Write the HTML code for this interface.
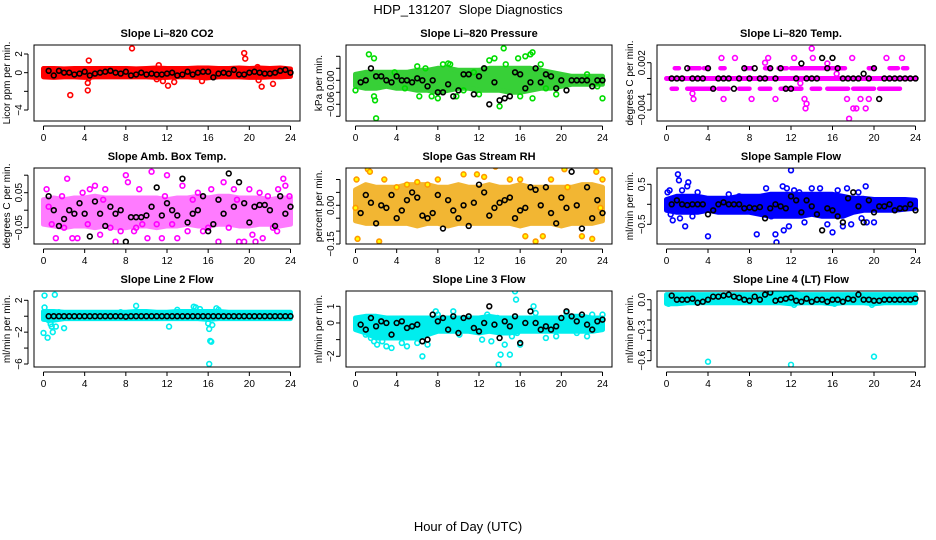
<!DOCTYPE html>
<html><head><meta charset="utf-8"><style>
html,body{margin:0;padding:0;background:#fff;width:936px;height:540px;overflow:hidden}
svg{display:block;font-family:"Liberation Sans",Arial,sans-serif}
</style></head><body>
<svg id="chart" width="936" height="540" viewBox="0 0 936 540" xmlns="http://www.w3.org/2000/svg">
<text x="468" y="14" font-size="13" text-anchor="middle">HDP_131207&#160; Slope Diagnostics</text>
<text x="468" y="531" font-size="13" text-anchor="middle">Hour of Day (UTC)</text>
</svg>
<script>
// shared hours
const bandHours = [0,1,2,3,4,5,6,7,8,9,10,11,12,13,14,15,16,17,18,19,20,21,22,23,24];
const blackHours = [0.5,1,1.5,2,2.5,3,3.5,4,4.5,5,5.5,6,6.5,7,7.5,8,8.5,9,9.5,10,10.5,11,11.5,12,12.5,13,13.5,14,14.5,15,15.5,16,16.5,17,17.5,18,18.5,19,19.5,20,20.5,21,21.5,22,22.5,23,23.5,24];
const xTicks = [0,4,8,12,16,20,24];

// panel 1 CO2
const co2Lo = [-0.45,-0.5,-0.45,-0.45,-0.5,-0.45,-0.45,-0.45,-0.45,-0.45,-0.45,-0.5,-0.5,-0.45,-0.45,-0.5,-0.55,-0.45,-0.45,-0.45,-0.5,-0.5,-0.45,-0.45,-0.4];
const co2Hi = [0.45,0.45,0.4,0.45,0.45,0.45,0.45,0.45,0.45,0.4,0.45,0.5,0.45,0.45,0.45,0.5,0.5,0.45,0.45,0.5,0.45,0.5,0.45,0.5,0.4];
const co2OutH = [2.6,4.3,4.3,4.4,8.6,11.2,11,11.6,12.1,12.7,15.4,19.5,19.6,20.4,20.8,20.9,21.2,22.3,4.4,15.8];
const co2OutV = [-2.4,-1.1,-1.9,1.3,2.6,0.8,-0.7,-0.9,-1.4,-1,-0.9,2.1,1.5,-5.6,0.6,-0.8,-1.5,-1.2,-0.6,-0.5];
const co2Black = [0.2,-0.3,0.2,0,0,-0.2,-0.1,0.1,-0.3,-0.1,0,0.1,0.2,0,-0.1,0.1,-0.3,-0.2,0,-0.2,-0.1,-0.2,-0.2,-0.1,0,-0.3,-0.2,0.1,-0.2,0,0.1,0.1,-0.5,-0.1,0,-0.1,0.3,-0.2,-0.2,0,0.1,0,-0.1,-0.1,0,0.2,0.3,0];
// panel 2 pressure
const presLo = [-0.015,-0.02,-0.02,-0.015,-0.02,-0.02,-0.025,-0.025,-0.03,-0.025,-0.02,-0.02,-0.025,-0.025,-0.025,-0.03,-0.03,-0.025,-0.02,-0.02,-0.015,-0.01,-0.01,-0.01,-0.01];
const presHi = [0.015,0.02,0.02,0.02,0.02,0.02,0.025,0.025,0.03,0.03,0.025,0.025,0.025,0.03,0.03,0.03,0.03,0.03,0.025,0.02,0.015,0.01,0.01,0.01,0.01];
const presOutH = [1.3,1.8,2,1.8,1.9,0,3.8,6,6.8,8.5,9,9.2,4.8,6.2,7.4,8,9.8,12.5,13,13.5,14,14.4,14.6,15.8,16.5,17,17.2,16,17.2,18,18.5,11.5,10.5,24,22.5,23.5,12,19.5];
const presOutV = [0.065,0.055,-0.095,-0.04,-0.05,-0.025,0.02,0.035,0.03,0.04,0.042,0.04,-0.02,-0.04,-0.04,-0.045,-0.04,0.03,0.05,0.055,-0.065,0.08,0.04,0.055,0.06,0.065,0.07,-0.04,-0.045,0.04,-0.02,0.02,-0.025,-0.045,0.015,-0.015,-0.035,-0.035];
const presBlack = [-0.005,0,0.03,0.01,0.01,0,-0.005,0.01,0,0,-0.005,0.005,0,-0.015,0,-0.03,-0.03,-0.01,-0.04,-0.025,0.015,0.015,-0.035,0.01,0.03,-0.06,-0.005,-0.05,-0.045,-0.04,0.02,0.015,-0.02,-0.005,0.03,-0.005,0.015,0.01,-0.02,0,-0.025,0,0,0,0,-0.015,0,0];
// panel 3 temp (quantized levels)
const tempLo = [0,0,0,0,0,0,0,0,0,0,0,0,0,0,0,0,0,0,0,0,0,0,0,0,0];
const tempHi = [0,0,0,0,0,0,0,0,0,0,0,0,0,0,0,0,0,0,0,0,0,0,0,0,0];
const tempUpStart = [0.8,2.2,3.6,5.2,7.6,9.5,10.8,12,13.5,19.5,21.5,22.8];
const tempUpEnd = [1.2,3.2,4,5.6,8.2,10,11.6,13.4,17.2,20,22.3,23.2];
const tempDnStart = [0.5,2,5,7,9,11,14,15.5,18,20.5];
const tempDnEnd = [1,4.5,6,8,10,13,14.8,17.5,20,22.5];
const tempOutH = [2.5,2.6,5.3,5.5,6.6,8.2,9.5,9.8,10.5,12.3,13.3,13.4,13.5,14,14.1,15.5,17.4,17.6,17.9,18,18.3,18.7,19.2,19.5,21.2,22.7,12.9,16.4];
const tempOutV = [-0.0019,-0.0026,0.0026,-0.0026,0.0026,-0.0026,0.002,0.0026,-0.0026,0.0026,-0.0026,-0.0038,-0.0032,0.0038,0.0026,0.0019,-0.0026,-0.0051,0.0026,-0.0038,-0.0038,-0.0026,-0.0038,-0.0026,0.0026,0.0026,-0.0006,0.0006];
const tempBlack = [0,0,0,0.0013,0,0,0,0.0013,-0.0013,0,0,0,-0.0013,0,0.0013,0,0.0013,0,0,0.0013,0,0.0013,-0.0013,-0.0013,0,0.0019,0,0,0,0.0026,0.0013,0.0026,0.0013,0,0,0,0,0.0006,0,0.0013,-0.0026,0,0,0,0,0,0,0];
// panel 4 amb box temp
const ambLo = [-0.04,-0.045,-0.05,-0.045,-0.045,-0.05,-0.045,-0.05,-0.05,-0.045,-0.045,-0.05,-0.045,-0.045,-0.04,-0.045,-0.045,-0.04,-0.04,-0.045,-0.045,-0.04,-0.04,-0.045,-0.04];
const ambHi = [0.03,0.035,0.03,0.035,0.035,0.04,0.035,0.035,0.035,0.035,0.035,0.035,0.03,0.035,0.035,0.04,0.035,0.04,0.04,0.035,0.035,0.035,0.03,0.035,0.035];
const ambOutH = [0.3,0.8,1.2,1.8,2.3,2.8,3.3,3.8,4.3,4.5,5,5.5,6,6.5,7,7.5,8,8.2,8.8,9.3,9.6,10.1,10.5,11,11.5,12,12.5,13,13.5,14,14.5,15,15.5,16.3,17,17.5,18,18.5,19,19.5,20,20.3,20.6,21,21.3,21.8,22.3,22.8,23.3,23.4,23.5,23.9,0.5,2,5.8,9,11.8,16,18.8,22.7];
const ambOutV = [0.06,-0.04,-0.08,0.04,0.09,-0.08,-0.08,0.05,-0.04,0.06,0.07,-0.07,0.06,-0.05,-0.09,-0.06,0.1,0.08,-0.06,0.06,-0.04,-0.08,0.11,-0.04,-0.08,0.1,-0.04,-0.08,0.07,-0.06,0.03,0.05,-0.06,0.06,-0.09,0.08,-0.05,0.06,-0.09,-0.09,0.06,-0.07,-0.09,0.05,-0.08,0.04,-0.05,0.06,0.09,0.13,0.07,0.04,0.01,-0.05,0.03,-0.05,0.04,-0.05,0.03,-0.06];
const ambBlack = [0.04,0,-0.045,-0.025,0,-0.01,0.02,-0.01,-0.075,0.025,-0.01,-0.045,0.01,-0.01,0,-0.09,-0.02,-0.02,-0.02,-0.015,0.01,0.065,-0.015,0.02,0,-0.015,0.09,-0.035,-0.01,0,0.04,-0.06,-0.04,0.03,-0.01,0.105,0.01,0.08,0.02,-0.035,0.01,0.015,0.015,0,-0.045,0.04,-0.01,0.01];
// panel 5 RH
const rhLo = [-0.06,-0.07,-0.07,-0.07,-0.07,-0.07,-0.08,-0.07,-0.07,-0.08,-0.07,-0.07,-0.07,-0.07,-0.07,-0.07,-0.08,-0.07,-0.07,-0.07,-0.08,-0.07,-0.07,-0.07,-0.06];
const rhHi = [0.06,0.08,0.07,0.07,0.07,0.08,0.08,0.08,0.07,0.07,0.08,0.07,0.07,0.08,0.07,0.07,0.08,0.07,0.07,0.07,0.07,0.07,0.08,0.08,0.07];
const rhOutH = [0,0.1,0.2,0.5,1.2,1.4,2.3,2.8,4,5,6,7,8,10.5,11.8,12.5,13.6,15,16,16.5,17.5,18.2,19,20.3,20.6,20.8,21.5,22,22.9,23,23.4,23.8,24];
const rhOutV = [-0.01,0.1,-0.13,-0.17,0.14,0.13,-0.14,0.1,0.07,0.08,0.09,0.08,0.1,0.12,0.12,0.11,0.15,0.1,0.1,-0.12,-0.14,-0.12,0.1,0.14,0.07,-0.21,0.2,-0.12,0.17,-0.13,0.13,-0.01,0.1];
const rhBlack = [-0.03,0.04,0.01,-0.07,0,-0.01,0.04,-0.05,-0.02,0.02,0.05,0.03,-0.04,-0.05,-0.03,0.04,-0.09,0.02,-0.02,-0.05,0,-0.08,0.01,0.08,0.05,-0.04,-0.01,0.01,0.02,0.03,-0.05,-0.02,-0.01,0.07,0.06,0,0.07,-0.03,-0.07,0.03,-0.01,0.13,0,-0.09,0.07,-0.05,0.02,-0.03];
// panel 6 sample flow
const sfLo = [-0.15,-0.2,-0.2,-0.2,-0.15,-0.2,-0.2,-0.2,-0.2,-0.25,-0.3,-0.3,-0.3,-0.3,-0.25,-0.3,-0.3,-0.3,-0.2,-0.15,-0.15,-0.15,-0.15,-0.12,-0.1];
const sfHi = [0.12,0.2,0.2,0.2,0.15,0.15,0.15,0.2,0.2,0.2,0.25,0.25,0.25,0.25,0.25,0.25,0.25,0.2,0.15,0.15,0.12,0.12,0.12,0.12,0.1];
const sfOutH = [0.1,0.3,0.4,0.6,1.1,1.2,1.3,1.5,1.8,2,2.1,2.5,3,4,6,7,8.7,9.6,10.1,10.5,10.6,11.2,11.6,11.3,11.8,12,12.3,12.8,13.3,14,14.8,15.5,16,16.5,17,17.4,17.8,18.5,18.8,19.2,19.3,20];
const sfOutV = [0.3,0.35,-0.25,-0.4,0.75,0.6,-0.35,0.35,-0.55,0.45,0.55,-0.3,0.3,-0.8,0.25,0.2,-0.75,0.4,-0.3,-0.75,-0.95,0.45,0.4,-0.65,-0.55,0.85,0.35,0.3,-0.45,0.4,0.4,-0.5,-0.7,0.35,-0.55,0.4,-0.5,0.3,-0.35,0.45,-0.45,-0.45];
const sfBlack = [0,0.1,0,-0.02,0,0,0,-0.25,-0.15,0,0.05,0,0,0,-0.1,-0.08,-0.1,-0.07,-0.35,-0.1,0,-0.05,-0.1,0.2,0.1,-0.2,0.1,-0.05,-0.25,-0.65,-0.1,-0.15,-0.3,-0.45,0.15,0.3,-0.05,-0.45,0.1,-0.2,-0.05,-0.05,0,-0.15,-0.1,-0.1,0,-0.15];
// panel 7 line 2 flow
const l2Lo = [-0.4,-0.5,-0.3,-0.3,-0.3,-0.3,-0.3,-0.3,-0.3,-0.3,-0.3,-0.3,-0.3,-0.3,-0.3,-0.3,-0.4,-0.3,-0.3,-0.3,-0.3,-0.3,-0.3,-0.3,-0.3];
const l2Hi = [0.6,0.6,0.5,0.5,0.5,0.5,0.5,0.5,0.5,0.6,0.6,0.5,0.5,0.6,0.6,0.6,0.6,0.6,0.5,0.5,0.5,0.5,0.5,0.5,0.5];
const l2OutH = [0,0.1,0.1,0.4,0.5,0.7,0.8,0.9,1.1,1.2,1.5,2,9,12.2,14.6,14.8,15.2,16,16.1,16.2,16.3,16.1,16.4,16.8,17,13,7.5];
const l2OutV = [-2.1,1.1,2.6,-2.7,-0.5,-1,-1.3,-2,2.7,-1.3,0.5,-1.5,1.3,-1.3,1.2,1.1,0.9,-0.9,-1.6,-3.1,-3.2,-6,-1.1,1,0.8,0.8,0.5];
const l2Black = [0,0,0,0,0,0,0,0,0,0,0,0,0,0,0,-0.05,0,0,0,0,0,0,0,0,0,0,0,0,0,0,0,0,0,0,0,0,0,0,0,0,0,0,0,0,0,0,0,0];
// panel 8 line 3 flow
const l3Lo = [-0.4,-0.6,-0.9,-0.9,-0.9,-0.9,-0.9,-0.7,-0.5,-0.5,-0.5,-0.5,-0.6,-0.5,-0.6,-0.6,-0.5,-0.5,-0.5,-0.5,-0.5,-0.5,-0.5,-0.5,-0.4];
const l3Hi = [0.3,0.4,0.4,0.3,0.3,0.3,0.3,0.3,0.3,0.3,0.3,0.3,0.3,0.4,0.3,0.3,0.3,0.3,0.3,0.3,0.3,0.4,0.4,0.3,0.3];
const l3OutH = [0.1,1,1.5,1.8,2.1,2.6,3,3.5,4.5,5,6,6.5,7,7.8,8,9.5,10.1,11.8,12.3,12.8,13.2,13.8,13.9,14.1,14.5,15,15.5,15.6,15.2,15.7,16,17.3,17.5,18.5,19.5,20.5,21.5,22.5,23,23.5,24];
const l3OutV = [-0.3,-0.7,-0.9,-1.1,-1.3,-1.1,-1.4,-1.5,-1.2,-1.4,-1.2,-2,-1.3,0.7,0.5,0.7,-0.7,-0.5,-1,0.5,-1.1,0.3,-2.5,-1.9,-1.3,-1.9,1.9,1.4,-0.8,-0.6,-1.3,1,0.6,-0.9,-0.8,0.6,-0.6,-0.8,0.5,-0.4,0.5];
const l3Black = [-0.1,-0.4,0.3,-0.2,0.1,0,-0.7,0,0.1,-0.3,-0.2,-0.1,-1.1,-1,0.5,0.1,0.3,-0.4,0.4,-0.6,0.3,0.4,-0.3,-0.5,0,1,-0.1,-0.9,0.1,-0.2,0.4,-1.2,0,0.7,0,-0.4,-0.2,-0.4,-0.2,0.3,0.7,0.4,0.1,0.5,-0.1,-0.4,0.1,0.2];
// panel 9 line 4 flow
const l4Lo = [-0.04,-0.04,-0.03,-0.03,-0.03,-0.03,-0.03,-0.03,-0.03,-0.03,-0.03,-0.03,-0.04,-0.03,-0.03,-0.03,-0.04,-0.03,-0.03,-0.03,-0.04,-0.03,-0.03,-0.03,-0.03];
const l4Hi = [0.05,0.05,0.05,0.05,0.05,0.05,0.05,0.05,0.05,0.05,0.06,0.06,0.06,0.05,0.05,0.05,0.05,0.05,0.05,0.05,0.05,0.05,0.05,0.05,0.05];
const l4OutH = [4,12,20,0.2,10.2,12.3,16.2,19.8];
const l4OutV = [-0.61,-0.64,-0.56,-0.04,0.06,-0.05,-0.04,-0.05];
const l4Black = [0.04,0,0,0,0.01,-0.03,-0.02,0,0.03,0.03,0.04,0.05,0.03,0.02,0,-0.01,0.03,0,0.05,0.07,-0.01,0,0.01,0.02,-0.01,-0.02,0.01,-0.02,0,0,-0.02,0,0,-0.02,0.01,0,0.05,0,0,-0.01,-0.01,0,0,0,0,0,0,0.01];

// tick definitions
const p1Ticks=[2,0,-2,-4], p1Labels=["2","0","","\u22124"];
const p2Ticks=[0.06,0.03,0,-0.03,-0.06,-0.09], p2Labels=["","","0.00","","\u22120.06",""];
const p3Ticks=[0.002,0,-0.002,-0.004], p3Labels=["0.002","","","\u22120.004"];
const p4Ticks=[0.1,0.05,0,-0.05], p4Labels=["","0.05","","\u22120.05"];
const p5Ticks=[0.1,0.05,0,-0.05,-0.1,-0.15], p5Labels=["","","0.00","","","\u22120.15"];
const p6Ticks=[0.5,0,-0.5], p6Labels=["0.5","","\u22120.5"];
const p7Ticks=[2,0,-2,-4,-6], p7Labels=["2","","\u22122","","\u22126"];
const p8Ticks=[1,0,-1,-2], p8Labels=["1","0","","\u22122"];
const p9Ticks=[0,-0.1,-0.2,-0.3,-0.4,-0.5,-0.6], p9Labels=["0.0","","","\u22120.3","","","\u22120.6"];

const NS='http://www.w3.org/2000/svg';
const svg=document.getElementById('chart');
function mk(tag,parent){const e=document.createElementNS(NS,tag);parent.appendChild(e);return e;}

const colL=[34,346,657], colR=[300,612,925];
const rowT=[45,168,291], rowB=[121,244,367];

const panels=[
 {name:'co2',title:'Slope Li\u2013820 CO2',ylab:'Licor ppm per min.',c:0,r:0,va:2,pa:54,vb:-4,pb:110,col:'#ff0000',band:'#ff0000',lo:co2Lo,hi:co2Hi,oh:co2OutH,ov:co2OutV,blk:co2Black,ticks:p1Ticks,labels:p1Labels},
 {name:'pressure',title:'Slope Li\u2013820 Pressure',ylab:'kPa per min.',c:1,r:0,va:0,pa:80.3,vb:-0.06,pb:104.3,col:'#00dd00',band:'#22cc22',lo:presLo,hi:presHi,oh:presOutH,ov:presOutV,blk:presBlack,ticks:p2Ticks,labels:p2Labels,op:0.9},
 {name:'temp',title:'Slope Li\u2013820 Temp.',ylab:'degrees C per min.',c:2,r:0,va:0.002,pa:62.7,vb:-0.004,pb:110,col:'#ff00ff',band:'#ff00ff',lo:tempLo,hi:tempHi,oh:tempOutH,ov:tempOutV,blk:tempBlack,ticks:p3Ticks,labels:p3Labels},
 {name:'amb-box-temp',title:'Slope Amb. Box Temp.',ylab:'degrees C per min.',c:0,r:1,va:0.05,pa:192.7,vb:-0.05,pb:227.7,col:'#ff00ff',band:'#ff44ff',lo:ambLo,hi:ambHi,oh:ambOutH,ov:ambOutV,blk:ambBlack,ticks:p4Ticks,labels:p4Labels,op:0.7},
 {name:'gas-stream-rh',title:'Slope Gas Stream RH',ylab:'percent per min.',c:1,r:1,va:0,pa:205.3,vb:-0.15,pb:244,col:'#ff9900',band:'#f0aa10',lo:rhLo,hi:rhHi,oh:rhOutH,ov:rhOutV,blk:rhBlack,ticks:p5Ticks,labels:p5Labels,fill:'#ffff00',op:0.85},
 {name:'sample-flow',title:'Slope Sample Flow',ylab:'ml/min per min.',c:2,r:1,va:0.5,pa:184.3,vb:-0.5,pb:224.3,col:'#0000ff',band:'#0000ff',lo:sfLo,hi:sfHi,oh:sfOutH,ov:sfOutV,blk:sfBlack,ticks:p6Ticks,labels:p6Labels},
 {name:'line2-flow',title:'Slope Line 2 Flow',ylab:'ml/min per min.',c:0,r:2,va:2,pa:300.3,vb:-6,pb:364,col:'#00eeee',band:'#00eeee',lo:l2Lo,hi:l2Hi,oh:l2OutH,ov:l2OutV,blk:l2Black,ticks:p7Ticks,labels:p7Labels},
 {name:'line3-flow',title:'Slope Line 3 Flow',ylab:'ml/min per min.',c:1,r:2,va:1,pa:306.3,vb:-2,pb:356.3,col:'#00eeee',band:'#00eeee',lo:l3Lo,hi:l3Hi,oh:l3OutH,ov:l3OutV,blk:l3Black,ticks:p8Ticks,labels:p8Labels},
 {name:'line4-flow',title:'Slope Line 4 (LT) Flow',ylab:'ml/min per min.',c:2,r:2,va:0,pa:299.7,vb:-0.6,pb:360.7,col:'#00eeee',band:'#00eeee',lo:l4Lo,hi:l4Hi,oh:l4OutH,ov:l4OutV,blk:l4Black,ticks:p9Ticks,labels:p9Labels}
];

panels.forEach(p=>{
 const L=colL[p.c], R=colR[p.c], T=rowT[p.r], B=rowB[p.r];
 const x0=L+9.5, xs=(R-L-19)/24;
 const X=h=>x0+h*xs;
 const Y=v=>p.pa+(v-p.va)*(p.pb-p.pa)/(p.vb-p.va);
 const g=mk('g',svg);
 
 
 const clipId='clip-'+p.name;
 const cp=mk('clipPath',g); cp.setAttribute('id',clipId);
 const cr=mk('rect',cp); cr.setAttribute('x',L); cr.setAttribute('y',T); cr.setAttribute('width',R-L); cr.setAttribute('height',B-T);
 const plot=mk('g',g); plot.setAttribute('clip-path','url(#'+clipId+')');
 
 
 let pts=bandHours.map((h,i)=>X(h)+','+Y(p.hi[i]));
 pts=pts.concat(bandHours.slice().reverse().map((h,i)=>X(h)+','+Y(p.lo[p.lo.length-1-i])));
 const poly=mk('polygon',plot);
 poly.setAttribute('points',pts.join(' '));
 poly.setAttribute('fill',p.band);
 poly.setAttribute('stroke',p.band);
 poly.setAttribute('stroke-width','5');
 poly.setAttribute('stroke-linejoin','round');
 poly.setAttribute('opacity',p.op||1);
 
 
 if(p.name==='temp'){
  const lvl=[[tempUpStart,tempUpEnd,0.0013],[tempDnStart,tempDnEnd,-0.0013]];
  lvl.forEach(([s,e,v])=>{s.forEach((st,i)=>{
   const ln=mk('line',plot);
   ln.setAttribute('x1',X(st)); ln.setAttribute('x2',X(e[i]));
   ln.setAttribute('y1',Y(v)); ln.setAttribute('y2',Y(v));
   ln.setAttribute('stroke','#ff00ff'); ln.setAttribute('stroke-width','4.5'); ln.setAttribute('stroke-linecap','round');
   
   
  });});
 }
 p.oh.forEach((h,i)=>{
  const c=mk('circle',plot);
  c.setAttribute('cx',X(h)); c.setAttribute('cy',Y(p.ov[i])); c.setAttribute('r','2.4');
  c.setAttribute('fill',p.fill||'none'); c.setAttribute('stroke',p.col); c.setAttribute('stroke-width','1.6');
  
  
 });
 blackHours.forEach((h,i)=>{
  const c=mk('circle',plot);
  c.setAttribute('cx',X(h)); c.setAttribute('cy',Y(p.blk[i])); c.setAttribute('r','2.4');
  c.setAttribute('fill','none'); c.setAttribute('stroke','#000'); c.setAttribute('stroke-width','1.6');
  
  
 });
 const fr=mk('rect',g); fr.setAttribute('x',L); fr.setAttribute('y',T); fr.setAttribute('width',R-L); fr.setAttribute('height',B-T);
 fr.setAttribute('fill','none'); fr.setAttribute('stroke','#000'); fr.setAttribute('stroke-width','1');
 
 
 const tt=mk('text',g); tt.textContent=p.title;
 tt.setAttribute('x',(L+R)/2); tt.setAttribute('y',T-8); tt.setAttribute('font-size','11'); tt.setAttribute('font-weight','bold'); tt.setAttribute('text-anchor','middle');
 
 
 const yl=mk('text',g); yl.textContent=p.ylab;
 const ylx=L-24, yly=(T+B)/2;
 yl.setAttribute('x',ylx); yl.setAttribute('y',yly); yl.setAttribute('font-size','10'); yl.setAttribute('text-anchor','middle');
 yl.setAttribute('transform','rotate(-90 '+ylx+' '+yly+')');
 
 
 const tmin=Y(p.ticks[0]), tmax=Y(p.ticks[p.ticks.length-1]);
 const ax=mk('line',g); ax.setAttribute('x1',L-6); ax.setAttribute('x2',L-6); ax.setAttribute('y1',tmin); ax.setAttribute('y2',tmax); ax.setAttribute('stroke','#000');
 
 
 p.ticks.forEach((v,i)=>{
  const y=Y(v);
  const tk=mk('line',g); tk.setAttribute('x1',L-10); tk.setAttribute('x2',L-6); tk.setAttribute('y1',y); tk.setAttribute('y2',y); tk.setAttribute('stroke','#000');
  
  
  if(p.labels[i]){
   const lb=mk('text',g); lb.textContent=p.labels[i];
   const lx=L-12;
   lb.setAttribute('x',lx); lb.setAttribute('y',y); lb.setAttribute('font-size','10'); lb.setAttribute('text-anchor','middle');
   lb.setAttribute('transform','rotate(-90 '+lx+' '+y+')');
   
   
  }
 });
 const xa=mk('line',g); xa.setAttribute('x1',X(0)); xa.setAttribute('x2',X(24)); xa.setAttribute('y1',B+5); xa.setAttribute('y2',B+5); xa.setAttribute('stroke','#000');
 
 
 xTicks.forEach(h=>{
  const tk=mk('line',g); tk.setAttribute('x1',X(h)); tk.setAttribute('x2',X(h)); tk.setAttribute('y1',B+5); tk.setAttribute('y2',B+9); tk.setAttribute('stroke','#000');
  
  
  const lb=mk('text',g); lb.textContent=h;
  lb.setAttribute('x',X(h)); lb.setAttribute('y',B+20); lb.setAttribute('font-size','10'); lb.setAttribute('text-anchor','middle');
  
  
 });
});
</script>
</body></html>
